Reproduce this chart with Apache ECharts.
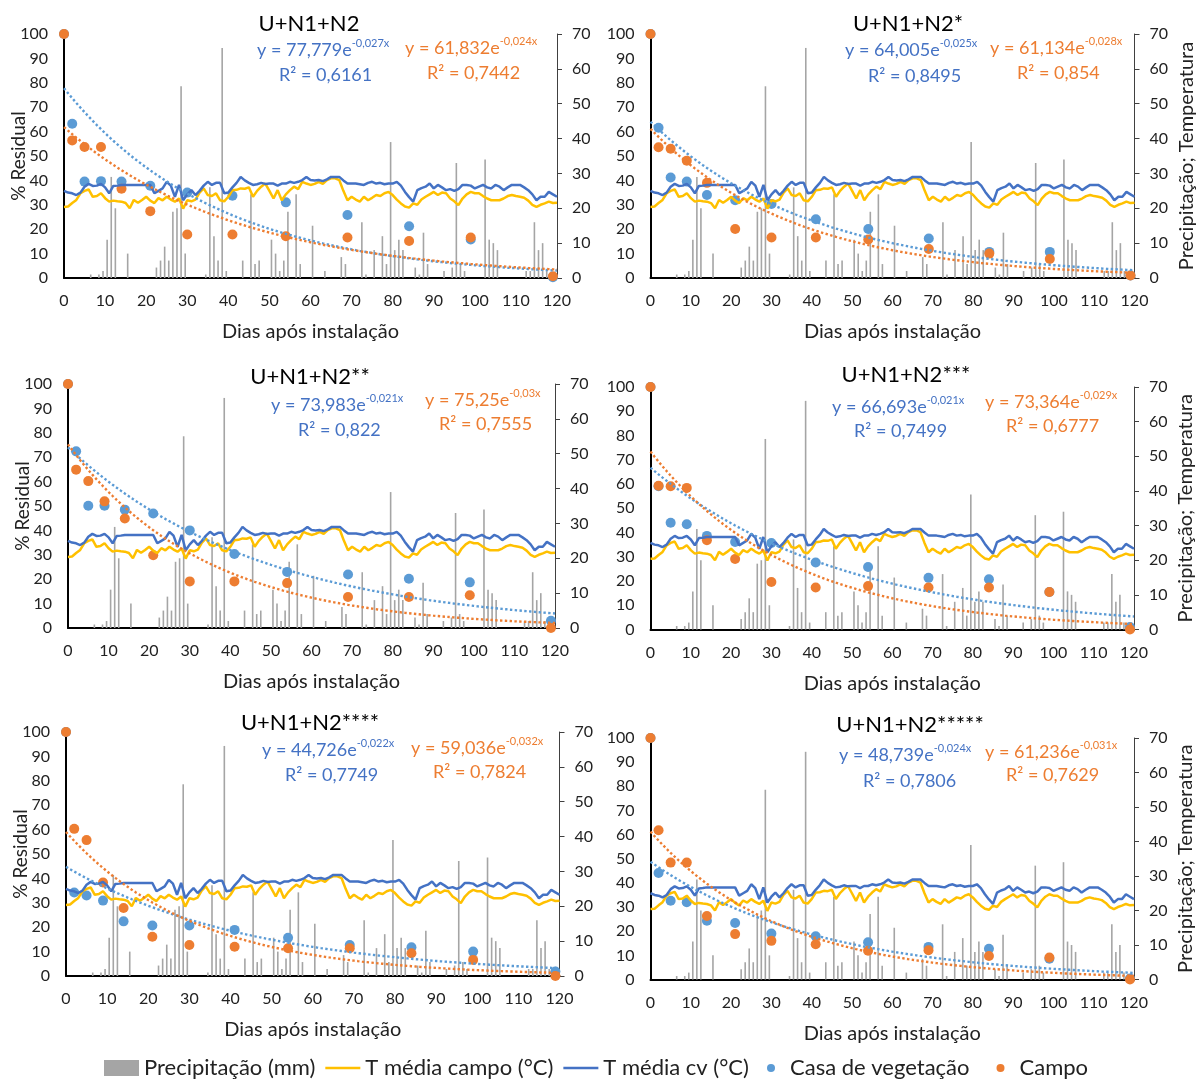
<!DOCTYPE html>
<html><head><meta charset="utf-8">
<script src="https://cdn.jsdelivr.net/npm/echarts@6/dist/echarts.min.js"></script>
<style>html,body{margin:0;padding:0;background:#fff}#c{width:1198px;height:1079px}</style>
</head><body><div id="c"></div>
<script>
// ---------------- DATA ----------------
const panelTitles = ['U+N1+N2','U+N1+N2*','U+N1+N2**','U+N1+N2***','U+N1+N2****','U+N1+N2*****'];
const sampleDays = [0,2,5,9,14,21,30,41,54,69,84,99,119];
// % Residual – Casa de vegetação
const casa1 = [100,63.2,39.5,39.7,39.5,37.8,35.0,33.7,31.0,25.8,21.2,15.8,0.3];
const casa2 = [100,61.6,41.2,39.5,34.0,31.9,30.3,24.1,20.1,16.2,10.7,10.7,1.0];
const casa3 = [100,72.4,50.1,50.1,48.5,46.9,40.0,30.3,23.0,21.9,20.2,18.7,3.0];
const casa4 = [100,59.1,44.0,43.4,38.6,36.1,35.7,27.6,25.8,21.3,20.7,15.5,1.0];
const casa5 = [100,34.2,33.0,30.9,22.4,20.7,20.7,18.9,15.7,12.7,11.8,10.0,1.8];
const casa6 = [100,44.1,32.6,32.0,24.3,23.4,19.0,17.9,15.4,13.5,12.7,8.6,0.4];
// % Residual – Campo
const campo1 = [100,56.4,53.7,53.7,36.6,27.4,17.8,17.8,17.1,16.6,15.2,16.6,0.7];
const campo2 = [100,53.6,53.0,48.1,39.0,20.1,16.6,16.6,15.8,11.9,10.0,7.8,1.0];
const campo3 = [100,64.9,60.2,51.9,44.9,29.8,19.1,19.1,18.4,12.7,12.7,13.4,0.0];
const campo4 = [100,59.3,59.1,58.4,36.8,29.1,19.6,17.3,17.9,17.3,17.3,15.5,0.0];
const campo5 = [100,60.3,55.7,38.3,27.9,16.1,12.7,12.0,11.4,11.4,9.3,6.6,0.0];
const campo6 = [100,61.8,48.4,48.4,26.3,18.8,16.0,14.6,11.9,12.1,9.7,9.1,0.0];
// exponential trend lines (as printed on the chart)
const casaA  = [77.779,64.005,73.983,66.693,44.726,48.739];
const casaK  = [-0.027,-0.025,-0.021,-0.021,-0.022,-0.024];
const casaR2 = [0.6161,0.8495,0.822,0.7499,0.7749,0.7806];
const campoA  = [61.832,61.134,75.25,73.364,59.036,61.236];
const campoK  = [-0.024,-0.028,-0.03,-0.029,-0.032,-0.031];
const campoR2 = [0.7442,0.854,0.7555,0.6777,0.7824,0.7629];
// daily weather, day 1..120 (precipitation, mm)
const precipDays = [7,9,10,11,12,13,16,23,24,25,26,27,28,29,30,35,36,37,38,39,40,44,46,47,48,51,52,53,54,55,57,58,61,64,68,69,73,74,76,78,79,80,81,82,83,86,87,88,89,93,95,96,97,98,103,104,105,106,113,114,115,116,117,118];
const precipMM   = [1,1,2,11,29,20,7,3,5,9,5,19,20,55,7,1,26,12,5,66,2,5,24,4,5,11,7,2,5,19,24,4,15,2,6,4,16,1,8,12,4,39,8,11,8,3,1,13,4,2,3,33,4,2,34,11,10,8,2,2,16,8,10,2];
// daily mean temperature, day 0..120 (°C)
const tCampo = [20.4,20.5,21.5,22.4,24.3,25.0,25.4,23.3,23.5,24.3,
 22.9,21.9,22.2,22.0,21.9,21.5,20.0,22.4,21.6,22.4,
 23.3,22.2,21.5,22.9,22.3,23.3,22.5,21.9,22.8,19.9,
 22.3,22.0,22.5,24.5,25.7,23.8,23.5,24.3,22.3,22.0,
 23.3,25.2,25.3,25.7,25.6,26.0,23.3,25.0,26.2,27.1,
 25.0,22.8,25.2,22.3,24.0,25.2,26.2,25.5,27.6,27.1,
 26.7,27.0,27.6,27.0,28.1,28.6,28.6,28.1,25.0,22.3,
 23.3,22.5,21.9,23.3,22.3,23.0,23.8,23.5,24.3,24.7,
 23.8,22.5,21.4,20.5,20.2,21.4,21.0,22.5,23.3,24.0,
 24.7,23.8,24.5,24.3,22.8,22.0,20.9,22.8,24.0,24.7,
 24.3,24.3,23.5,22.8,22.3,22.3,22.3,22.8,23.5,23.8,
 23.5,23.3,23.0,22.2,21.0,20.4,21.0,21.4,21.9,21.5,21.6];
const tCv = [25.0,24.5,24.3,23.8,24.5,26.2,27.0,26.4,26.5,27.0,
 26.0,24.3,26.4,26.5,26.7,26.7,26.7,26.7,26.7,26.7,
 26.7,26.7,24.3,25.0,25.7,27.6,26.5,23.3,26.7,22.3,
 24.0,25.2,23.8,25.0,26.5,27.6,26.7,27.3,27.3,24.3,
 24.5,26.0,27.3,29.0,28.0,27.3,26.7,26.9,27.3,27.0,
 27.1,27.1,26.5,27.1,27.1,27.6,27.3,27.6,28.1,29.0,
 28.1,28.0,28.1,27.8,28.3,29.0,29.0,29.0,28.0,27.1,
 27.1,27.1,26.9,26.7,27.3,27.6,27.1,27.3,26.9,27.1,
 27.1,27.6,26.5,24.7,23.2,21.9,25.2,25.8,26.2,27.1,
 25.7,26.7,26.0,25.2,25.5,25.0,25.5,26.7,26.7,26.5,
 25.7,26.2,26.7,26.0,25.7,26.7,26.2,25.2,26.0,26.7,
 26.7,26.7,26.0,25.2,24.0,22.3,23.3,23.3,24.7,24.0,23.3];
const xTicks = {min:0, max:120, interval:10};
const leftTicks = {min:0, max:100, interval:10};
const rightTicks = {min:0, max:70, interval:10};

// ---------------- BUILD ----------------
const casaAll = [casa1,casa2,casa3,casa4,casa5,casa6];
const campoAll = [campo1,campo2,campo3,campo4,campo5,campo6];
const FONT = 'Lato, "Open Sans", sans-serif';
const C_BAR='#A5A5A5', C_TC='#FFC000', C_TV='#4472C4', C_CASA='#5B9BD5', C_CAMPO='#ED7D31';
const TXT='#222';
const dayCats = []; const precip = [];
for (let d=1; d<=120; d++){ dayCats.push(String(d)); const k=precipDays.indexOf(d); precip.push(k>=0?precipMM[k]:0); }
const allDays = []; for (let d=0; d<=120; d++) allDays.push(d);

const grids = [
 {left:64, top:34, width:493, height:244},
 {left:650.5, top:34, width:484, height:244},
 {left:68, top:384, width:487, height:244},
 {left:650.5, top:387, width:483.5, height:242.5},
 {left:66, top:732, width:493.5, height:244},
 {left:650.5, top:738, width:483.5, height:241.5}
];
const titlePos = [[309,24],[908,24],[310,377],[906,375],[310,723],[910,725]];
const eqPos = [ // blueEq, blueR2, orangeEq, orangeR2
 [[257,50],[279,75],[405,48],[427,73]],
 [[845,50],[868,76],[990,48],[1017,73]],
 [[271,405],[298,430],[425,400],[439,424]],
 [[832,407],[854,431],[985,402],[1006,426]],
 [[262,750],[285,775],[411,748],[433,772]],
 [[839,755],[863,781],[985,752],[1006,775]]
];
const fmt = v => String(v).replace('.', ',');

const xAxis=[], yAxis=[], series=[], graphic=[];
grids.forEach((g,i)=>{
  const isLeft = (i%2===0);
  g.containLabel=false; g.outerBoundsMode='none';
  xAxis.push({type:'value', gridIndex:i, min:xTicks.min, max:xTicks.max, interval:xTicks.interval,
    name:'Dias após instalação', nameLocation:'middle', nameGap:44, nameMoveOverlap:false,
    nameTextStyle:{fontSize:20, color:TXT, fontFamily:FONT},
    axisLine:{show:true, lineStyle:{color:'#000', width:2}}, axisTick:{show:false}, splitLine:{show:false},
    axisLabel:{fontSize:16, color:TXT, fontFamily:FONT, margin:15}});
  xAxis.push({type:'category', gridIndex:i, data:dayCats, boundaryGap:true, show:false});
  yAxis.push({type:'value', gridIndex:i, position:'left', min:leftTicks.min, max:leftTicks.max, interval:leftTicks.interval,
    name: isLeft ? '% Residual' : '', nameLocation:'middle', nameGap:36, nameRotate:90, nameMoveOverlap:false,
    nameTextStyle:{fontSize:19, color:TXT, fontFamily:FONT},
    axisLine:{show:true, lineStyle:{color:'#000', width:2}}, axisTick:{show:false}, splitLine:{show:false},
    axisLabel:{fontSize:16, color:TXT, fontFamily:FONT, margin:16}});
  yAxis.push({type:'value', gridIndex:i, position:'right', min:rightTicks.min, max:rightTicks.max, interval:rightTicks.interval,
    name: isLeft ? '' : 'Precipitação; Temperatura', nameLocation:'middle', nameGap:42, nameRotate:90, nameMoveOverlap:false,
    nameTextStyle:{fontSize:20, color:TXT, fontFamily:FONT},
    axisLine:{show:true, lineStyle:{color:'#404040', width:1}}, axisTick:{show:true, length:5, lineStyle:{color:'#404040'}},
    splitLine:{show:false},
    axisLabel:{fontSize:16, color:TXT, fontFamily:FONT, margin:15}});
  const xv=2*i, xc=2*i+1, yl=2*i, yr=2*i+1;
  series.push({name:'Precipitação (mm)', type:'bar', xAxisIndex:xc, yAxisIndex:yr, data:precip, barWidth:1.6,
    itemStyle:{color:C_BAR}, silent:true});
  series.push({name:'T média campo (°C)', type:'line', xAxisIndex:xv, yAxisIndex:yr, data:tCampo.map((v,d)=>[d,v]),
    showSymbol:false, symbol:'none', lineStyle:{color:C_TC, width:2.5}, itemStyle:{color:C_TC}, silent:true});
  series.push({name:'T média cv (°C)', type:'line', xAxisIndex:xv, yAxisIndex:yr, data:tCv.map((v,d)=>[d,v]),
    showSymbol:false, symbol:'none', lineStyle:{color:C_TV, width:2.5}, itemStyle:{color:C_TV}, silent:true});
  series.push({name:'trendCasa', type:'line', xAxisIndex:xv, yAxisIndex:yl,
    data:allDays.map(d=>[d, casaA[i]*Math.exp(casaK[i]*d)]), showSymbol:false, symbol:'none', smooth:false,
    lineStyle:{color:C_CASA, width:2.4, type:[2.4,2.4], cap:'butt'}, silent:true});
  series.push({name:'trendCampo', type:'line', xAxisIndex:xv, yAxisIndex:yl,
    data:allDays.map(d=>[d, campoA[i]*Math.exp(campoK[i]*d)]), showSymbol:false, symbol:'none',
    lineStyle:{color:C_CAMPO, width:2.4, type:[2.4,2.4], cap:'butt'}, silent:true});
  series.push({name:'Casa de vegetação', type:'scatter', xAxisIndex:xv, yAxisIndex:yl, clip:false,
    data:sampleDays.map((d,j)=>[d, casaAll[i][j]]), symbolSize:10, itemStyle:{color:C_CASA, opacity:1}, silent:true});
  series.push({name:'Campo', type:'scatter', xAxisIndex:xv, yAxisIndex:yl, clip:false,
    data:sampleDays.map((d,j)=>[d, campoAll[i][j]]), symbolSize:10, itemStyle:{color:C_CAMPO, opacity:1}, silent:true});

  graphic.push({type:'text', style:{text:panelTitles[i], x:titlePos[i][0], y:titlePos[i][1], align:'center', verticalAlign:'middle',
    fill:'#000', font:'22px '+FONT}});
  const rich = (col)=>({m:{fontSize:18, lineHeight:24, fill:col, fontFamily:FONT},
                        s:{fontSize:11, lineHeight:12, verticalAlign:'top', fill:col, fontFamily:FONT}});
  const e = eqPos[i];
  graphic.push({type:'text', style:{text:'{m|y = '+fmt(casaA[i])+'e}{s|'+fmt(casaK[i])+'x}', rich:rich(C_TV),
    x:e[0][0], y:e[0][1], align:'left', verticalAlign:'middle'}});
  graphic.push({type:'text', style:{text:'R² = '+fmt(casaR2[i]), x:e[1][0], y:e[1][1], align:'left', verticalAlign:'middle',
    fill:C_TV, font:'18px '+FONT}});
  graphic.push({type:'text', style:{text:'{m|y = '+fmt(campoA[i])+'e}{s|'+fmt(campoK[i])+'x}', rich:rich(C_CAMPO),
    x:e[2][0], y:e[2][1], align:'left', verticalAlign:'middle'}});
  graphic.push({type:'text', style:{text:'R² = '+fmt(campoR2[i]), x:e[3][0], y:e[3][1], align:'left', verticalAlign:'middle',
    fill:C_CAMPO, font:'18px '+FONT}});
});

const LINE_ICON = 'path://M0,0H35V2.6H0Z';
const chart = echarts.init(document.getElementById('c'), null, {renderer:'canvas'});
chart.setOption({
  animation:false,
  backgroundColor:'#fff',
  grid:grids, xAxis, yAxis, series, graphic,
  legend:[
    {data:[{name:'Precipitação (mm)', icon:'rect'},{name:'T média campo (°C)', icon:LINE_ICON},{name:'T média cv (°C)', icon:LINE_ICON}],
     left:104, top:1057, padding:0, itemWidth:35, itemHeight:16, itemGap:10, selectedMode:false,
     textStyle:{fontSize:22, color:TXT, fontFamily:FONT}},
    {data:[{name:'Casa de vegetação', icon:'circle'},{name:'Campo', icon:'circle'}],
     left:767, top:1057, padding:0, itemWidth:28, itemHeight:8, itemGap:27, selectedMode:false,
     textStyle:{fontSize:22, color:TXT, fontFamily:FONT}}
  ]
});
</script></body></html>
